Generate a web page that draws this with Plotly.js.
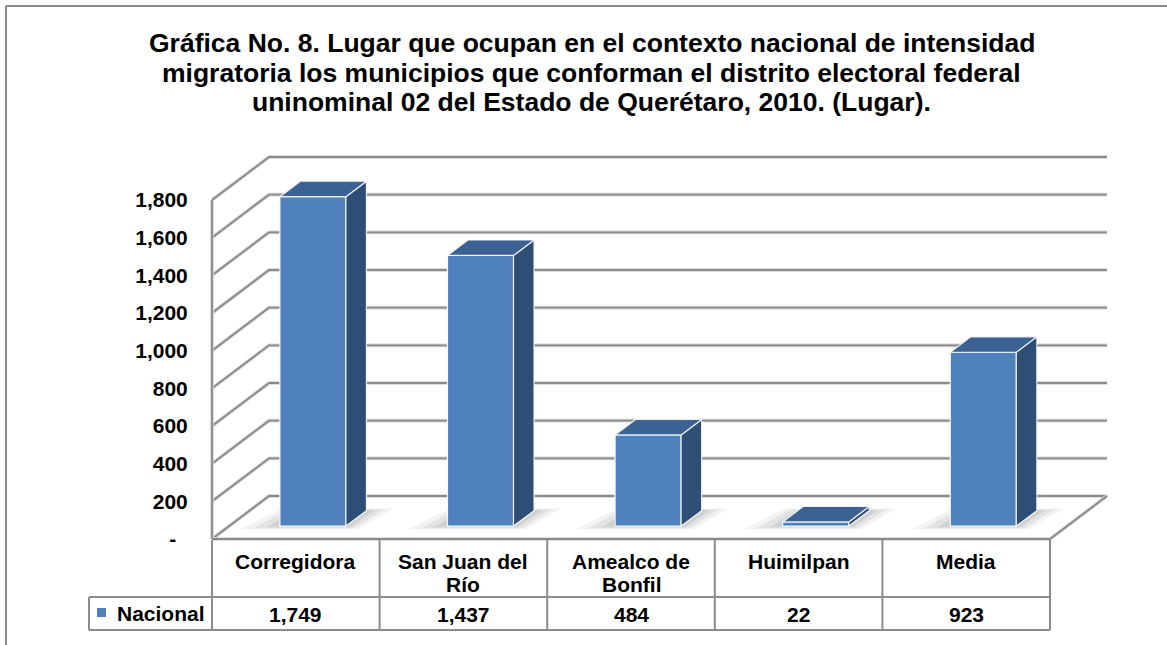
<!DOCTYPE html>
<html>
<head>
<meta charset="utf-8">
<script src="https://cdn.plot.ly/plotly-3.0.1.min.js"></script>
<style>html,body{margin:0;padding:0;background:#fff;}#chart{width:1167px;height:645px;}</style>
</head>
<body>
<div id="chart"></div>
<script>
// ---- data ----
const categories = ["Corregidora", "San Juan del Río", "Amealco de Bonfil", "Huimilpan", "Media"];
const categoryLines = [["Corregidora"], ["San Juan del", "Río"], ["Amealco de", "Bonfil"], ["Huimilpan"], ["Media"]];
const values = [1749, 1437, 484, 22, 923];
const seriesName = "Nacional";
const tickValues = [0, 200, 400, 600, 800, 1000, 1200, 1400, 1600, 1800];
const tickLabels = ["-\u00a0\u00a0", "200", "400", "600", "800", "1,000", "1,200", "1,400", "1,600", "1,800"];
const titleLines = [
  "Gráfica No. 8. Lugar que ocupan en el contexto nacional de intensidad",
  "migratoria los municipios que conforman el distrito electoral federal",
  "uninominal 02 del Estado de Querétaro, 2010. (Lugar)."
];

// ---- geometry (layout) ----
const FONT = "Liberation Sans, Arial, Helvetica, sans-serif";
const PL = 209, PR = 1125, PT = 140, PB = 640;
const W = PR - PL, H = PB - PT;
const X0 = 212, CAT = 167.6, Y0 = 539, VPX = 0.18833;
const xr = [-0.5 + (PL - X0) / CAT, -0.5 + (PR - X0) / CAT];
const yr = [(Y0 - PB) / VPX, (Y0 - PT) / VPX];
const DX = 57 / CAT, DY = 43 / VPX;           // depth of the 3D box
const BF = 0.30;                               // depth fraction where bar front sits
const BX = BF * DX, BY = BF * DY;
const BW = 0.394;                              // bar width (category units)
const BDX = 0.36 * DX, BDY = 0.36 * DY;        // bar depth
const n = categories.length;
const px = x => (x - PL) / W;
const py = y => (PB - y) / H;

const GRID = '#8a8a8a';
const shapes = [];
function line(path, color, width, layer) {
  shapes.push({type: 'path', xref: 'x', yref: 'y', path: path, layer: layer || 'below',
    line: {color: color, width: width}});
}
// gridlines in perspective (left wall + back wall)
tickValues.forEach(v => {
  const p = `M ${-0.5},${v} L ${-0.5 + DX},${v + DY} L ${n - 0.5 + DX},${v + DY}`;
  line(p, '#d4d4d4', 3.6);
  line(p, GRID, 1.8);
});
// left wall front edge, floor edges
[`M ${-0.5},0 L ${-0.5},${tickValues[tickValues.length - 1]}`,
 `M ${-0.5},0 L ${n - 0.5},0 L ${n - 0.5 + DX},${DY}`].forEach(p => {
  line(p, '#d4d4d4', 3.6);
  line(p, GRID, 1.8);
});
// floor shadows under bars
values.forEach((v, i) => {
  const xl = i + BX - BW / 2, xR = i + BX + BW / 2;
  [[0.18, 0.05], [0.12, 0.06], [0.06, 0.08]].forEach(([e, a]) => {
    const ey = e * 260;
    shapes.push({type: 'path', xref: 'x', yref: 'y', layer: 'below',
      fillcolor: `rgba(0,0,0,${a})`, line: {width: 0},
      path: `M ${xl - e * 1.3},${BY - ey * 0.35} L ${xR + e * 0.4},${BY - ey * 0.35} ` +
            `L ${xR + BDX + e * 0.9},${BY + BDY + ey * 0.25} L ${xl + BDX - e * 0.6},${BY + BDY + ey * 0.25} Z`});
  });
});

// table lines
const TB = '#8c8c8c';
function pline(x0, y0, x1, y1, xref) {
  shapes.push({type: 'line', xref: xref || 'paper', yref: 'paper', layer: 'above',
    x0: x0, y0: py(y0), x1: x1, y1: py(y1), line: {color: TB, width: 2}});
}
for (let k = 0; k <= n; k++) pline(k - 0.5, 540, k - 0.5, 630, 'x');
pline(px(89), 597, px(X0 + CAT * n), 597);
pline(px(89), 630, px(X0 + CAT * n), 630);
pline(px(89), 597, px(89), 630);
// outer chart frame
pline(px(6), 6, px(1167), 6);
pline(px(6), 6, px(6), 645);
// legend key
shapes.push({type: 'rect', xref: 'paper', yref: 'paper', x0: px(97), x1: px(106), y0: py(617), y1: py(608),
  fillcolor: '#4F81BD', line: {width: 0}});

// ---- traces ----
const traces = [];
values.forEach((v, i) => {
  const xl = i + BX - BW / 2, xR = i + BX + BW / 2;
  const yb = BY, yt = BY + v;
  traces.push({type: 'scatter', mode: 'lines', fill: 'toself', fillcolor: '#2E4E76',
    x: [xR, xR, xR + BDX, xR + BDX, xR], y: [yb, yt, yt + BDY, yb + BDY, yb],
    line: {color: 'rgba(255,255,255,0.85)', width: 1.2}, hoverinfo: 'skip', showlegend: false});
  traces.push({type: 'scatter', mode: 'lines', fill: 'toself', fillcolor: '#3C6293',
    x: [xl, xR, xR + BDX, xl + BDX, xl], y: [yt, yt, yt + BDY, yt + BDY, yt],
    line: {color: 'rgba(255,255,255,0.85)', width: 1.2}, hoverinfo: 'skip', showlegend: false});
});
traces.unshift({type: 'bar', name: seriesName,
  x: values.map((v, i) => i + BX), y: values, base: BY, width: BW,
  marker: {color: '#4F81BD', line: {color: 'rgba(255,255,255,0.9)', width: 1.2}},
  hoverinfo: 'skip', showlegend: false});

// ---- annotations ----
const ann = [];
titleLines.forEach((t, k) => {
  ann.push({xref: 'paper', yref: 'paper', x: px(591.5), y: py(43 + 29.5 * k), text: '<b>' + t + '</b>',
    showarrow: false, xanchor: 'center', yanchor: 'middle', font: {family: FONT, size: 26.5, color: '#000'}});
});
categoryLines.forEach((lines, i) => {
  lines.forEach((t, k) => {
    ann.push({xref: 'x', yref: 'paper', x: i, y: py(561 + 23.5 * k), text: '<b>' + t + '</b>',
      showarrow: false, xanchor: 'center', yanchor: 'middle', font: {family: FONT, size: 21, color: '#000'}});
  });
});
values.forEach((v, i) => {
  ann.push({xref: 'x', yref: 'paper', x: i, y: py(614), text: '<b>' + v.toLocaleString('en-US') + '</b>',
    showarrow: false, xanchor: 'center', yanchor: 'middle', font: {family: FONT, size: 21, color: '#000'}});
});
ann.push({xref: 'paper', yref: 'paper', x: px(115), y: py(613), text: '<b>' + seriesName + '</b>',
  showarrow: false, xanchor: 'left', yanchor: 'middle', font: {family: FONT, size: 21, color: '#000'}});

const layout = {
  width: 1167, height: 645,
  margin: {l: PL, r: 1167 - PR, t: PT, b: 645 - PB, pad: 0},
  paper_bgcolor: '#fff', plot_bgcolor: 'rgba(0,0,0,0)',
  showlegend: false,
  xaxis: {range: xr, showgrid: false, zeroline: false, showticklabels: false, ticks: '', showline: false, fixedrange: true},
  yaxis: {range: yr, showgrid: false, zeroline: false, showline: false,
    tickmode: 'array', tickvals: tickValues, ticktext: tickLabels.map(t => '<b>' + t + '</b>'),
    ticks: 'outside', ticklen: 16, tickcolor: 'rgba(0,0,0,0)',
    tickfont: {family: FONT, size: 21, color: '#000'}, fixedrange: true},
  shapes: shapes,
  annotations: ann
};
Plotly.newPlot('chart', traces, layout, {displayModeBar: false, staticPlot: true});
</script>
</body>
</html>
